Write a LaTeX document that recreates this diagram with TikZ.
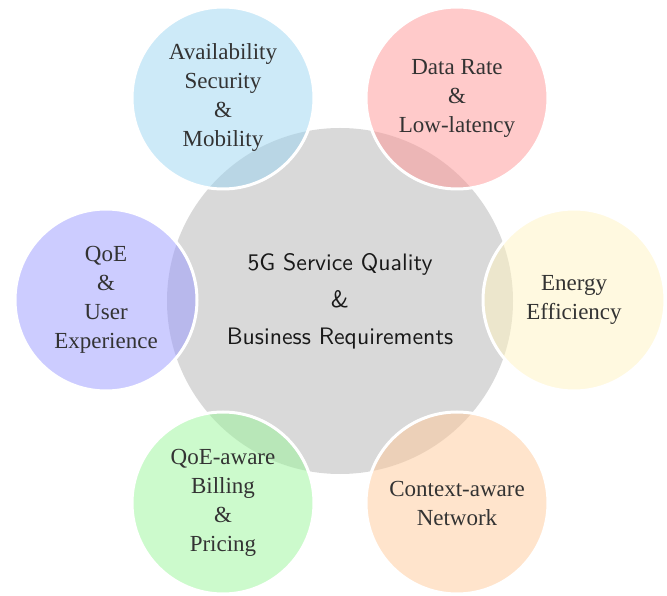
\documentclass[tikz,border=0pt]{standalone}
\usepackage{fontspec}
\setmainfont{Liberation Serif}
\newfontfamily\hubfont{lmsans10-regular.otf}
\definecolor{cBlue}{RGB}{155,213,241}
\definecolor{cRed}{RGB}{255,149,149}
\definecolor{cYellow}{RGB}{255,243,193}
\definecolor{cOrange}{RGB}{255,201,153}
\definecolor{cGreen}{RGB}{153,245,153}
\definecolor{cPurple}{RGB}{153,153,255}
\definecolor{hubgray}{RGB}{217,217,217}
\tikzset{
  hub/.style={circle, fill=hubgray, minimum size=346pt, inner sep=0pt,
    font=\hubfont\fontsize{23.8}{37}\selectfont, align=center, text=black!90},
  bubble/.style={circle, minimum size=182pt, inner sep=0pt, draw=white,
    line width=3pt, fill opacity=0.5, text opacity=1,
    font=\fontsize{23}{29}\selectfont, align=center, text=black!80},
}
\begin{document}
\begin{tikzpicture}[x=1pt,y=1pt]
\useasboundingbox (0,0) rectangle (667,595);
\node[hub] (hub) at (340,294) {5G Service Quality\\\&\\Business Requirements};
\node[bubble, fill=cBlue] (avail) at (223,497) {Availability\\Security\\\&\\Mobility};
\node[bubble, fill=cRed] (rate) at (457,497) {Data Rate\\\&\\Low-latency};
\node[bubble, fill=cYellow] (energy) at (574,295) {Energy\\Efficiency};
\node[bubble, fill=cOrange] (context) at (457,92) {Context-aware\\Network};
\node[bubble, fill=cGreen] (billing) at (223,92) {QoE-aware\\Billing\\\&\\Pricing};
\node[bubble, fill=cPurple] (qoe) at (106,295) {QoE\\\&\\User\\Experience};
\end{tikzpicture}
\end{document}
